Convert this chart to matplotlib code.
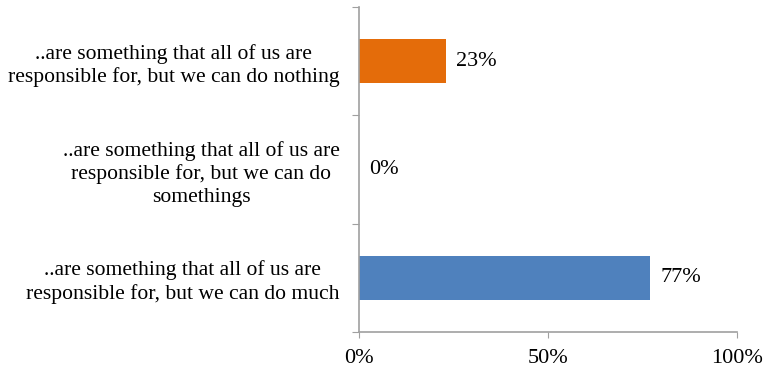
import matplotlib.pyplot as plt
import numpy as np

# dati del grafico
categorie = ['..are something that all of us are\nresponsible for, but we can do much',
             '..are something that all of us are\nresponsible for, but we can do\nsomethings',
             '..are something that all of us are\nresponsible for, but we can do nothing']
valori = [77, 0, 23]
colori = ['#4F81BD', '#4F81BD', '#E46C0A']
tick_x = [0, 50, 100]
etichette_x = ['0%', '50%', '100%']

plt.rcParams['font.family'] = ['Liberation Serif', 'DejaVu Serif']

fig = plt.figure(figsize=(7.64, 3.70), dpi=100)
ax = fig.add_axes([359 / 764, 1 - 332 / 370, (737 - 359) / 764, (332 - 7) / 370])

y = np.arange(len(categorie))
ax.barh(y, valori, height=0.41, color=colori)

for i in range(len(valori)):
    ax.text(valori[i] + 2.7, y[i], str(valori[i]) + '%', va='center', ha='left', fontsize=16)

ax.set_xlim(0, 100)
ax.set_ylim(-0.5, 2.5)

# tick dell'asse y ai confini delle categorie, etichette al centro
ax.set_yticks([-0.5, 0.5, 1.5, 2.5])
ax.set_yticklabels([])
ax.set_yticks(y, minor=True)
ax.set_yticklabels(categorie, minor=True, fontsize=15.6, multialignment='center', linespacing=1.25)
ax.tick_params(axis='y', which='minor', length=0, pad=14)
ax.tick_params(axis='y', which='major', length=5, color='#A0A0A0', direction='out')

ax.set_xticks(tick_x)
ax.set_xticklabels(etichette_x, fontsize=16)
ax.tick_params(axis='x', length=4, color='#A0A0A0', pad=8)

for lato in ['top', 'right']:
    ax.spines[lato].set_visible(False)
for lato in ['left', 'bottom']:
    ax.spines[lato].set_color('#A0A0A0')
    ax.spines[lato].set_linewidth(1.2)

fig.savefig('out.png', dpi=100)
